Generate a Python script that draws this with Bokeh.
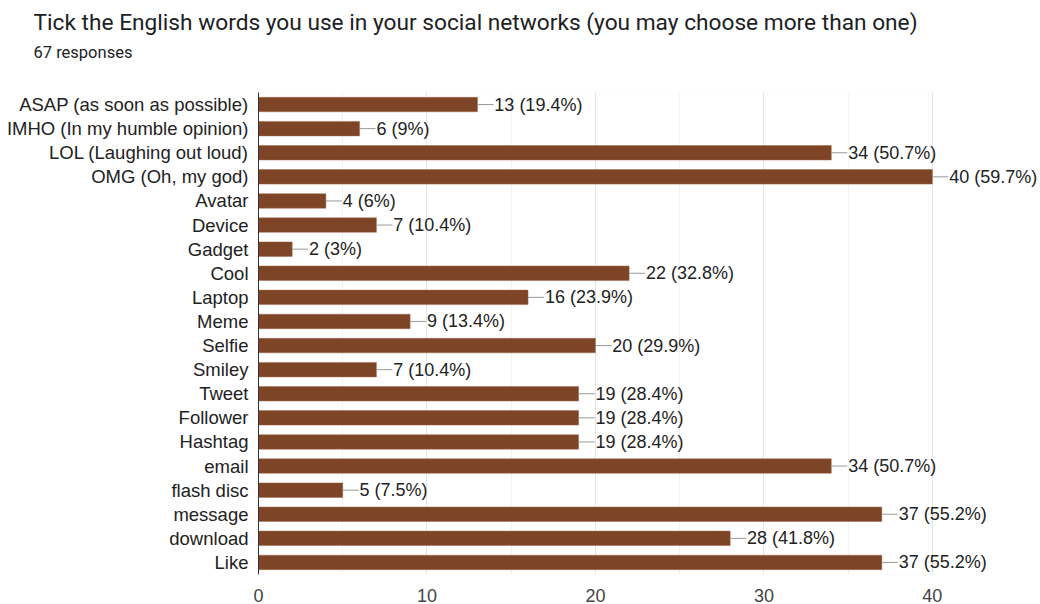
from bokeh.plotting import figure
from bokeh.models import (Range1d, FactorRange, FixedTicker, Grid, Title, BoxAnnotation,
                          ColumnDataSource)
from bokeh.embed import file_html
from bokeh.resources import INLINE
from bokeh.core.properties import value

categories = ["ASAP (as soon as possible)", "IMHO (In my humble opinion)", "LOL (Laughing out loud)",
              "OMG (Oh, my god)", "Avatar", "Device", "Gadget", "Cool", "Laptop", "Meme", "Selfie",
              "Smiley", "Tweet", "Follower", "Hashtag", "email", "flash disc", "message",
              "download", "Like"]
counts = [13, 6, 34, 40, 4, 7, 2, 22, 16, 9, 20, 7, 19, 19, 19, 34, 5, 37, 28, 37]
percents = ["19.4%", "9%", "50.7%", "59.7%", "6%", "10.4%", "3%", "32.8%", "23.9%", "13.4%",
            "29.9%", "10.4%", "28.4%", "28.4%", "28.4%", "50.7%", "7.5%", "55.2%", "41.8%", "55.2%"]
x_ticks = [0, 10, 20, 30, 40]
minor_ticks = [5, 15, 25, 35]

BAR = "#7d4426"
LABEL_FONT = "Liberation Sans"

labels = [f"{c} ({pc})" for c, pc in zip(counts, percents)]
src = ColumnDataSource(dict(cat=categories, val=counts, lab=labels,
                            lend=[c + 0.95 for c in counts],
                            tx=[c + 1.0 for c in counts]))

p = figure(width=1038, height=602, title=None,
           y_range=FactorRange(factors=list(reversed(categories))),
           x_range=Range1d(0, 46.3),
           output_backend="svg", toolbar_location=None,
           min_border_left=258, min_border_right=0, min_border_top=0, min_border_bottom=20)
p.frame_height = 482
p.outline_line_color = None
p.background_fill_color = "white"

# grids
p.xgrid.ticker = FixedTicker(ticks=x_ticks)
p.xgrid.grid_line_color = "#e6e6e6"
p.ygrid.grid_line_color = None
p.add_layout(Grid(dimension=0, ticker=FixedTicker(ticks=minor_ticks), grid_line_color="#f3f3f3"))
p.add_layout(BoxAnnotation(left=0, right=x_ticks[-1], fill_color=None, fill_alpha=0,
                           line_color="#e6e6e6", line_width=1, level="underlay"))

# bars
p.hbar(y="cat", right="val", left=0, height=0.6, source=src, fill_color=BAR,
       line_color="#a0684c", line_width=0.5)
p.segment(x0="val", x1="lend", y0="cat", y1="cat", source=src, line_color="#999999", line_width=1)
p.text(x="tx", y="cat", text="lab", source=src, text_align="left", text_baseline="middle",
       text_font=value(LABEL_FONT), text_font_size="18px", text_color="#222222")

# axes
p.xaxis.ticker = FixedTicker(ticks=x_ticks)
p.xaxis.axis_line_color = None
p.xaxis.major_tick_line_color = None
p.xaxis.minor_tick_line_color = None
p.xaxis.major_label_text_font = LABEL_FONT
p.xaxis.major_label_text_font_size = "18px"
p.xaxis.major_label_text_color = "#444444"
p.xaxis.major_label_standoff = 8

p.yaxis.axis_line_color = "#333333"
p.yaxis.major_tick_line_color = None
p.yaxis.minor_tick_line_color = None
p.yaxis.major_label_text_font = LABEL_FONT
p.yaxis.major_label_text_font_size = "18.5px"
p.yaxis.major_label_text_color = "#222222"
p.yaxis.major_label_standoff = 4

# spacer between subtitle and plot area
p.add_layout(Title(text=" ", text_font_size="10px", standoff=14), "above")
p.add_layout(Title(text="67 responses", text_font="Roboto", text_font_size="16.5px",
                   text_font_style="normal", text_color="#202124", align="left",
                   offset=-225, standoff=8), "above")
p.add_layout(Title(text="Tick the English words you use in your social networks (you may choose more than one)",
                   text_font="Roboto", text_font_size="22.7px", text_font_style="normal",
                   text_color="#202124", align="left", offset=-225, standoff=2), "above")
# spacer at the very top
p.add_layout(Title(text=" ", text_font_size="3px", standoff=0), "above")

open("out.html", "w").write(file_html(p, INLINE))
